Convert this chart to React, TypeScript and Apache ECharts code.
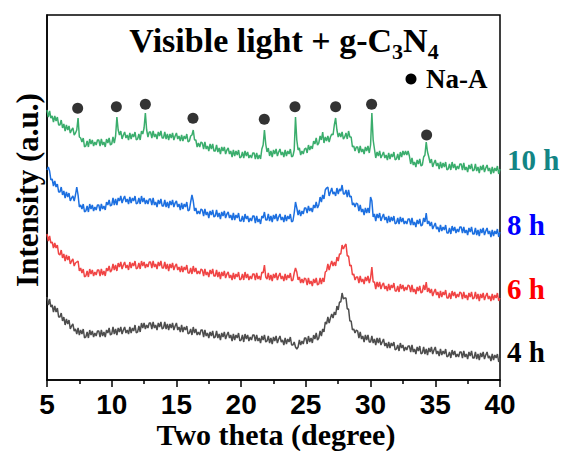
import React, { useEffect, useRef } from "react";
import * as echarts from "echarts";

const THETA_START = 5;
const THETA_STEP = 0.1;
const xTicks = [5, 10, 15, 20, 25, 30, 35, 40];

// Intensities (arbitrary units), one value every 0.1 degree from 5 to 40
const int4h = [
  83, 75, 81, 73, 75, 68, 74, 68, 72, 63,
  63, 67, 59, 63, 55, 61, 56, 60, 51, 54,
  56, 49, 51, 46, 52, 45, 50, 46, 51, 42,
  43, 48, 42, 50, 45, 49, 43, 47, 44, 49,
  49, 43, 50, 44, 48, 43, 50, 47, 52, 45,
  46, 53, 46, 51, 45, 52, 48, 53, 46, 50,
  53, 47, 50, 46, 53, 47, 52, 49, 55, 47,
  48, 54, 48, 57, 52, 57, 51, 55, 52, 57,
  57, 51, 58, 52, 55, 50, 57, 53, 58, 51,
  52, 58, 51, 56, 50, 56, 52, 57, 50, 54,
  57, 50, 53, 48, 55, 48, 53, 50, 54, 46,
  47, 51, 45, 53, 47, 51, 45, 48, 45, 50,
  50, 43, 50, 44, 47, 42, 48, 44, 49, 42,
  43, 49, 42, 46, 40, 47, 43, 48, 41, 45,
  48, 42, 45, 39, 46, 40, 45, 42, 47, 39,
  40, 45, 38, 46, 41, 45, 39, 43, 40, 45,
  45, 39, 45, 39, 42, 37, 44, 40, 45, 38,
  39, 44, 37, 42, 36, 43, 39, 44, 37, 41,
  44, 38, 40, 35, 42, 36, 41, 38, 43, 35,
  35, 38, 33, 31, 33, 40, 35, 39, 36, 42,
  42, 36, 44, 38, 42, 37, 45, 41, 47, 40,
  42, 49, 44, 51, 48, 58, 56, 63, 57, 62,
  66, 62, 68, 65, 74, 70, 78, 78, 87, 81,
  82, 82, 71, 71, 59, 59, 50, 51, 47, 50,
  49, 42, 48, 41, 44, 38, 45, 40, 45, 38,
  38, 44, 37, 41, 35, 42, 37, 42, 35, 38,
  41, 34, 37, 32, 38, 32, 37, 34, 38, 30,
  31, 35, 29, 37, 32, 35, 29, 33, 30, 34,
  34, 28, 35, 28, 31, 26, 33, 29, 34, 26,
  27, 33, 26, 31, 25, 32, 28, 33, 26, 30,
  33, 26, 29, 24, 31, 25, 29, 26, 31, 23,
  24, 28, 22, 30, 25, 29, 23, 26, 23, 28,
  28, 22, 29, 23, 26, 21, 28, 24, 29, 22,
  22, 28, 21, 26, 20, 27, 23, 28, 21, 25,
  28, 22, 24, 19, 26, 20, 25, 22, 26, 18,
  22,
];

const int6h = [
  146, 139, 144, 137, 138, 132, 137, 132, 135, 126,
  125, 130, 122, 126, 119, 125, 120, 124, 116, 119,
  121, 114, 117, 118, 119, 109, 112, 107, 111, 103,
  104, 109, 103, 111, 106, 110, 104, 108, 105, 110,
  110, 104, 111, 105, 109, 104, 112, 109, 114, 108,
  110, 116, 110, 115, 109, 117, 113, 118, 111, 115,
  118, 112, 115, 110, 118, 112, 117, 114, 119, 111,
  112, 117, 111, 119, 114, 118, 112, 116, 113, 118,
  118, 112, 119, 113, 116, 111, 118, 114, 119, 112,
  112, 118, 111, 116, 109, 116, 112, 117, 110, 114,
  116, 110, 113, 108, 114, 108, 113, 110, 115, 107,
  107, 112, 106, 114, 108, 112, 106, 109, 106, 111,
  110, 104, 111, 105, 108, 103, 110, 106, 111, 104,
  104, 110, 103, 108, 101, 108, 104, 109, 102, 106,
  108, 102, 105, 100, 107, 101, 106, 103, 108, 100,
  101, 106, 100, 108, 102, 106, 100, 104, 101, 106,
  106, 100, 107, 101, 104, 100, 108, 107, 115, 103,
  101, 107, 100, 105, 99, 106, 102, 107, 100, 104,
  107, 101, 104, 99, 106, 100, 105, 102, 107, 99,
  100, 107, 112, 108, 100, 103, 97, 101, 97, 102,
  101, 95, 102, 96, 99, 94, 101, 97, 102, 95,
  96, 102, 96, 102, 98, 108, 109, 116, 110, 115,
  119, 114, 118, 114, 123, 119, 126, 126, 135, 131,
  134, 136, 124, 124, 114, 115, 105, 106, 100, 103,
  103, 97, 104, 98, 101, 96, 103, 99, 104, 97,
  102, 113, 98, 98, 91, 98, 93, 98, 91, 95,
  97, 91, 94, 89, 96, 90, 95, 92, 97, 89,
  89, 94, 88, 96, 91, 95, 89, 93, 90, 95,
  94, 88, 95, 88, 91, 86, 93, 89, 94, 87,
  88, 95, 90, 98, 88, 92, 87, 91, 84, 88,
  91, 85, 88, 82, 89, 83, 88, 85, 90, 82,
  82, 87, 81, 89, 84, 88, 82, 86, 83, 88,
  87, 81, 88, 82, 85, 80, 87, 83, 88, 81,
  82, 88, 81, 86, 79, 86, 82, 87, 80, 84,
  87, 81, 84, 79, 86, 80, 85, 82, 87, 79,
  82,
];

const int8h = [
  210, 213, 209, 200, 201, 194, 199, 193, 196, 188,
  188, 193, 185, 189, 182, 188, 183, 187, 179, 182,
  184, 179, 185, 193, 185, 173, 175, 171, 176, 168,
  169, 174, 168, 176, 171, 175, 169, 173, 170, 175,
  175, 169, 176, 171, 174, 170, 178, 175, 180, 174,
  175, 182, 175, 181, 175, 182, 179, 184, 177, 181,
  184, 178, 181, 176, 183, 177, 182, 179, 184, 176,
  177, 182, 176, 184, 178, 182, 176, 180, 176, 181,
  181, 175, 182, 175, 178, 173, 180, 176, 181, 174,
  174, 180, 173, 178, 172, 179, 175, 180, 173, 177,
  179, 173, 176, 170, 177, 171, 176, 173, 178, 169,
  170, 178, 185, 179, 169, 172, 166, 169, 166, 171,
  170, 164, 171, 165, 168, 162, 169, 165, 170, 163,
  164, 170, 163, 167, 161, 168, 164, 169, 162, 166,
  168, 162, 165, 160, 167, 160, 165, 162, 167, 159,
  159, 164, 158, 166, 161, 164, 158, 162, 159, 164,
  164, 157, 164, 158, 161, 156, 164, 162, 168, 160,
  160, 166, 159, 164, 158, 165, 161, 166, 159, 163,
  166, 160, 163, 158, 165, 159, 164, 161, 166, 158,
  159, 167, 178, 172, 165, 170, 164, 169, 166, 172,
  172, 167, 174, 169, 172, 168, 175, 172, 178, 172,
  175, 183, 178, 185, 181, 190, 192, 193, 184, 188,
  192, 186, 188, 184, 192, 186, 191, 189, 195, 186,
  186, 190, 183, 190, 183, 184, 175, 177, 173, 177,
  176, 169, 175, 168, 171, 165, 172, 167, 172, 167,
  183, 179, 163, 166, 159, 166, 162, 167, 159, 163,
  166, 160, 163, 157, 164, 158, 163, 159, 164, 156,
  157, 162, 156, 163, 158, 162, 156, 159, 156, 161,
  161, 155, 162, 155, 158, 153, 160, 156, 161, 154,
  155, 162, 158, 167, 156, 159, 154, 158, 151, 154,
  157, 151, 153, 148, 155, 149, 153, 150, 155, 147,
  147, 152, 146, 154, 149, 153, 147, 151, 148, 153,
  153, 147, 153, 147, 150, 145, 152, 148, 153, 146,
  146, 152, 145, 150, 144, 151, 147, 152, 145, 149,
  152, 146, 149, 143, 150, 144, 149, 146, 151, 143,
  148,
];

const int10h = [
  270, 263, 269, 262, 264, 258, 264, 259, 263, 255,
  255, 260, 252, 256, 249, 255, 250, 254, 247, 250,
  252, 245, 247, 250, 262, 243, 242, 238, 242, 233,
  234, 239, 233, 241, 236, 240, 234, 238, 235, 240,
  240, 234, 241, 235, 238, 233, 241, 237, 242, 235,
  236, 243, 237, 244, 263, 250, 245, 249, 241, 245,
  248, 242, 245, 240, 247, 241, 246, 243, 248, 240,
  241, 246, 240, 249, 246, 252, 267, 250, 243, 248,
  248, 242, 249, 243, 246, 241, 248, 244, 249, 242,
  242, 248, 241, 246, 240, 246, 242, 247, 240, 244,
  247, 241, 244, 239, 245, 239, 244, 241, 246, 238,
  239, 244, 245, 250, 240, 240, 233, 237, 233, 238,
  237, 231, 238, 231, 234, 229, 236, 231, 236, 229,
  229, 235, 228, 232, 226, 233, 229, 233, 226, 230,
  232, 226, 229, 223, 230, 224, 229, 225, 230, 222,
  223, 228, 222, 229, 224, 228, 222, 225, 222, 227,
  227, 221, 227, 221, 225, 221, 231, 235, 250, 236,
  228, 232, 224, 229, 223, 230, 226, 231, 224, 228,
  231, 225, 228, 223, 230, 224, 229, 226, 231, 223,
  224, 230, 263, 240, 230, 232, 225, 229, 226, 231,
  232, 227, 235, 230, 234, 231, 239, 236, 242, 235,
  237, 244, 240, 248, 237, 243, 239, 244, 238, 243,
  246, 245, 255, 262, 250, 243, 247, 243, 248, 241,
  243, 247, 241, 249, 243, 243, 233, 234, 229, 233,
  233, 227, 234, 228, 231, 226, 233, 229, 234, 227,
  235, 267, 240, 231, 222, 228, 224, 229, 222, 225,
  228, 222, 225, 220, 227, 221, 226, 223, 228, 220,
  221, 226, 220, 228, 223, 229, 225, 229, 225, 229,
  224, 216, 222, 215, 218, 213, 220, 216, 221, 214,
  215, 223, 225, 238, 228, 223, 217, 221, 213, 217,
  220, 214, 217, 211, 218, 212, 217, 213, 218, 210,
  211, 216, 210, 218, 212, 216, 210, 214, 211, 216,
  216, 210, 217, 210, 213, 208, 215, 211, 216, 209,
  210, 216, 209, 213, 207, 214, 210, 215, 208, 212,
  215, 209, 212, 206, 213, 207, 212, 209, 214, 206,
  211,
];

// Na-A reflections: [two theta, marker height]
const naAMarkers = [
  [7.37, 271.7],
  [10.36, 273.3],
  [12.6, 275.7],
  [16.28, 261.7],
  [21.79, 260.7],
  [24.16, 273.3],
  [27.3, 273.3],
  [30.08, 275.7],
  [34.33, 245],
];

const seriesNames = ["4 h", "6 h", "8 h", "10 h"];
const seriesColors = ["#4d4d4d", "#f04444", "#1c6fe0", "#3aad6c"];
const labelColors = ["#000000", "#ff0000", "#0000ff", "#138585"];

const toPairs = (arr: number[]) =>
  arr.map((v, i) => [+(THETA_START + i * THETA_STEP).toFixed(2), v]);

export default function App() {
  const ref = useRef<HTMLDivElement>(null);
  useEffect(() => {
    if (!ref.current) return;
    const chart = echarts.init(ref.current, null, { renderer: "svg" });
    const serif = "'Liberation Serif', 'Times New Roman', serif";
    const sans = "'Liberation Sans', Arial, sans-serif";
    const allData = [int4h, int6h, int8h, int10h];
    const labelY = [352, 289, 225, 160];
    chart.setOption({
      animation: false,
      backgroundColor: "#ffffff",
      grid: {
        left: 47,
        top: 15,
        width: 453,
        height: 365,
        show: true,
        borderColor: "#000",
        borderWidth: 1.5,
        backgroundColor: "transparent",
      },
      xAxis: {
        type: "value",
        min: 5,
        max: 40,
        interval: 5,
        axisLine: { show: true, lineStyle: { color: "#000", width: 1.5 } },
        axisTick: { show: true, inside: false, length: 7, lineStyle: { color: "#000", width: 1.5 } },
        minorTick: { show: true, splitNumber: 2, length: 4, lineStyle: { color: "#000", width: 1.5 } },
        splitLine: { show: false },
        axisLabel: {
          color: "#000",
          fontFamily: sans,
          fontWeight: "bold",
          fontSize: 28,
          margin: 10,
          formatter: (v: number) => (xTicks.includes(v) ? String(v) : ""),
        },
      },
      yAxis: {
        type: "value",
        min: 0,
        max: 365,
        axisLine: { show: true, lineStyle: { color: "#000", width: 1.5 } },
        axisTick: { show: false },
        axisLabel: { show: false },
        splitLine: { show: false },
      },
      series: [
        ...allData.map((d, k) => ({
          name: seriesNames[k],
          type: "line",
          data: toPairs(d),
          showSymbol: false,
          lineStyle: { color: seriesColors[k], width: 1.5 },
          z: 2 + k,
        })),
        {
          name: "Na-A",
          type: "scatter",
          data: naAMarkers,
          symbol: "circle",
          symbolSize: 11,
          itemStyle: { color: "#000" },
          z: 10,
        },
      ],
      graphic: [
        {
          type: "text",
          x: 284,
          y: 40,
          style: {
            text: "Visible light + g-C{s|3}N{s|4}",
            fontFamily: serif,
            fontWeight: "bold",
            fontSize: 34,
            fill: "#000",
            align: "center",
            verticalAlign: "middle",
            rich: {
              s: { fontFamily: serif, fontWeight: "bold", fontSize: 22, padding: [22, 0, 0, 0] },
            },
          },
        },
        {
          type: "circle",
          shape: { cx: 411, cy: 79, r: 5.5 },
          style: { fill: "#000" },
        },
        {
          type: "text",
          x: 426,
          y: 79,
          style: {
            text: "Na-A",
            fontFamily: serif,
            fontWeight: "bold",
            fontSize: 27,
            fill: "#000",
            align: "left",
            verticalAlign: "middle",
          },
        },
        ...seriesNames.map((n, k) => ({
          type: "text",
          x: 507,
          y: labelY[k],
          style: {
            text: n,
            fontFamily: serif,
            fontWeight: "bold",
            fontSize: 29,
            fill: labelColors[k],
            align: "left",
            verticalAlign: "middle",
          },
        })),
        {
          type: "text",
          x: 276,
          y: 434,
          style: {
            text: "Two theta (degree)",
            fontFamily: serif,
            fontWeight: "bold",
            fontSize: 30,
            fill: "#000",
            align: "center",
            verticalAlign: "middle",
          },
        },
        {
          type: "text",
          x: 27,
          y: 190,
          rotation: Math.PI / 2,
          style: {
            text: "Intensity (a.u.)",
            fontFamily: serif,
            fontWeight: "bold",
            fontSize: 31,
            fill: "#000",
            align: "center",
            verticalAlign: "middle",
          },
        },
      ],
    });
    return () => chart.dispose();
  }, []);
  return (
    <div
      ref={ref}
      style={{ position: "absolute", left: 0, top: 0, width: 565, height: 451 }}
    />
  );
}
